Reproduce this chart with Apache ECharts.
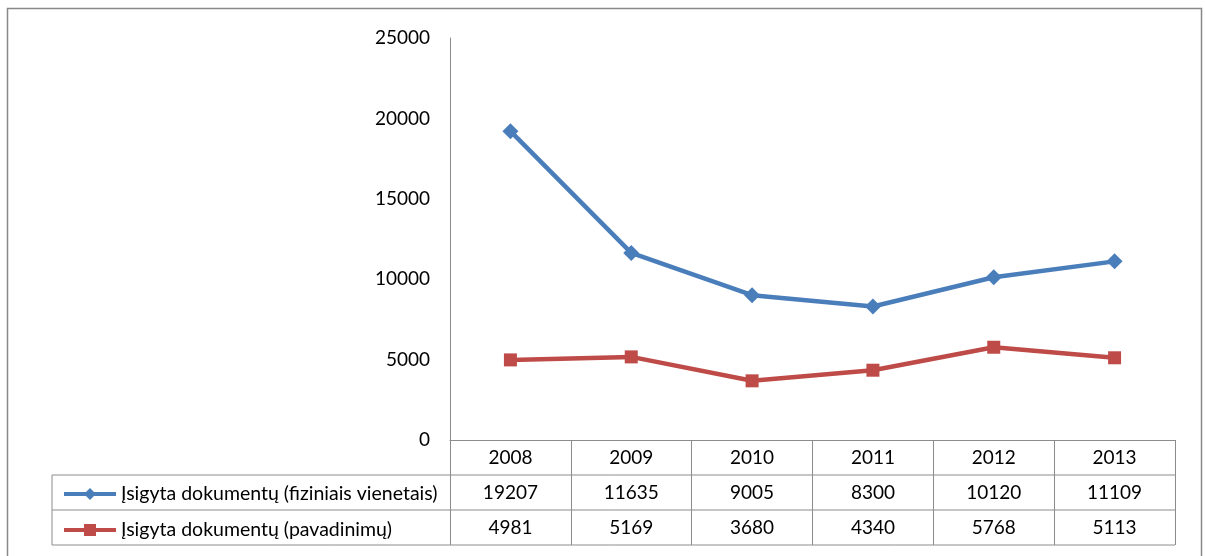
<!DOCTYPE html>
<html>
<head>
<meta charset="utf-8">
<script src="https://cdn.jsdelivr.net/npm/echarts@6/dist/echarts.min.js"></script>
<style>
  html, body { margin: 0; padding: 0; background: #fff; }
  #chart { width: 1205px; height: 556px; }
</style>
</head>
<body>
<div id="chart"></div>
<script>
const years = ["2008", "2009", "2010", "2011", "2012", "2013"];
const seriesNames = ["Įsigyta dokumentų (fiziniais vienetais)", "Įsigyta dokumentų (pavadinimų)"];
const physicalUnits = [19207, 11635, 9005, 8300, 10120, 11109];
const titles = [4981, 5169, 3680, 4340, 5768, 5113];
const yTicks = [0, 5000, 10000, 15000, 20000, 25000];

const FONT = "Lato";
const FONT_SIZE = 19;
const GRID_L = 450;
const GRID_R = 1175;
const GRID_T = 38;
const GRID_B = 440;
const ROW = 35;
const TABLE_L = 52;
const LINE_COLOR = "#8c8c8c";

const chart = echarts.init(document.getElementById("chart"));

function tableAxis(values, row) {
  return {
    type: "category",
    data: years,
    position: "bottom",
    offset: row * ROW,
    boundaryGap: true,
    axisLine: {show: row === 0, lineStyle: {color: LINE_COLOR, width: 1}},
    axisTick: {show: true, length: ROW, inside: false, lineStyle: {color: LINE_COLOR, width: 1}},
    axisLabel: {
      color: "#000",
      fontFamily: FONT,
      fontSize: FONT_SIZE,
      lineHeight: 20,
      margin: 8,
      formatter: (v, i) => String(values[i]),
    },
  }
}

// horizontal and vertical lines of the legend column of the table
const tableLines = [];
for (let r = 1; r <= 3; r++) {
  tableLines.push({
    type: "line",
    shape: {x1: TABLE_L, y1: GRID_B + r * ROW, x2: GRID_R, y2: GRID_B + r * ROW},
    style: {stroke: LINE_COLOR, lineWidth: 1},
  })
}
tableLines.push({
  type: "line",
  shape: {x1: TABLE_L, y1: GRID_B + ROW, x2: TABLE_L, y2: GRID_B + 3 * ROW},
  style: {stroke: LINE_COLOR, lineWidth: 1},
})
tableLines.push({
  type: "rect",
  shape: {x: 7.5, y: 8.5, width: 1194, height: 600},
  style: {fill: "none", stroke: "#888", lineWidth: 1.5},
})

chart.setOption({
  animation: false,
  grid: {
    left: GRID_L,
    right: 1205 - GRID_R,
    top: GRID_T,
    bottom: 556 - GRID_B,
  },
  legend: {
    orient: "vertical",
    left: TABLE_L + 5,
    top: GRID_B + ROW + 4,
    itemWidth: 52,
    itemHeight: 15,
    itemGap: ROW - 19,
    lineStyle: {width: 4},
    textStyle: {color: "#000", fontFamily: FONT, fontSize: 19.5, lineHeight: 19},
    data: seriesNames,
  },
  xAxis: [
    tableAxis(years, 0),
    tableAxis(physicalUnits, 1),
    tableAxis(titles, 2),
  ],
  yAxis: {
    type: "value",
    min: yTicks[0],
    max: yTicks[yTicks.length - 1],
    interval: yTicks[1] - yTicks[0],
    axisLine: {show: true, lineStyle: {color: LINE_COLOR, width: 1}},
    axisTick: {show: false},
    splitLine: {show: false},
    axisLabel: {color: "#000", fontFamily: FONT, fontSize: FONT_SIZE, margin: 20, formatter: v => String(v)},
  },
  series: [
    {
      name: seriesNames[0],
      type: "line",
      data: physicalUnits,
      symbol: "diamond",
      symbolSize: 16,
      lineStyle: {color: "#4a7ebb", width: 4.5},
      itemStyle: {color: "#4a7ebb"},
    },
    {
      name: seriesNames[1],
      type: "line",
      data: titles,
      symbol: "rect",
      symbolSize: 13,
      lineStyle: {color: "#be4b48", width: 4.5},
      itemStyle: {color: "#be4b48"},
    },
  ],
  graphic: tableLines,
})
</script>
</body>
</html>
